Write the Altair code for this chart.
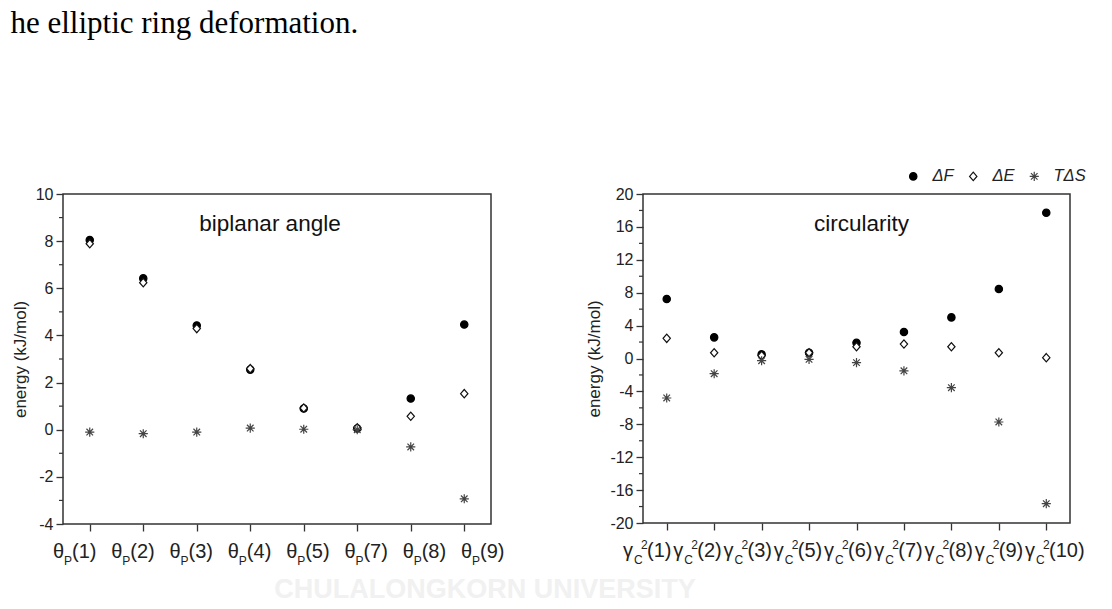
import altair as alt
import pandas as pd

series_names = ["ΔF", "ΔE", "TΔS"]

# biplanar angle panel
left_ids = ["1", "2", "3", "4", "5", "7", "8", "9"]
left_dF = [8.05, 6.42, 4.42, 2.55, 0.90, 0.05, 1.32, 4.46]
left_dE = [7.89, 6.24, 4.29, 2.59, 0.92, 0.08, 0.57, 1.53]
left_TdS = [-0.10, -0.17, -0.10, 0.07, 0.02, 0.00, -0.73, -2.93]
left_major = [-4, -2, 0, 2, 4, 6, 8, 10]
left_minor = [-3, -1, 1, 3, 5, 7, 9]

# circularity panel
right_ids = ["1", "2", "3", "5", "6", "7", "8", "9", "10"]
right_dF = [7.23, 2.57, 0.50, 0.70, 1.90, 3.22, 5.00, 8.45, 17.73]
right_dE = [2.45, 0.70, 0.35, 0.70, 1.43, 1.76, 1.43, 0.70, 0.10]
right_TdS = [-4.80, -1.85, -0.27, -0.10, -0.50, -1.50, -3.55, -7.72, -17.65]
right_major = [-20, -16, -12, -8, -4, 0, 4, 8, 12, 16, 20]
right_minor = [-18, -14, -10, -6, -2, 2, 6, 10, 14, 18]

page_text = "he elliptic ring deformation."
watermark = "CHULALONGKORN UNIVERSITY"
y_title = "energy (kJ/mol)"

FONT = "Liberation Sans"
INK = "#222222"

diamond_path = "M0,-1L0.88,0L0,1L-0.88,0Z"
asterisk_path = "M-1,0L1,0M0,-1L0,1M-0.72,-0.72L0.72,0.72M-0.72,0.72L0.72,-0.72"


def long_df(ids, dF, dE, TdS):
    rows = []
    for s, vals in zip(series_names, [dF, dE, TdS]):
        for i, (c, v) in enumerate(zip(ids, vals)):
            rows.append({"cat": c, "idx": i, "series": s, "value": v})
    return pd.DataFrame(rows)


def panel(ids, dF, dE, TdS, major, minor, title, W, H, sym, sub, sup,
          lab_range, title_dx, legend):
    df = long_df(ids, dF, dE, TdS)
    yscale = alt.Scale(domain=[major[0], major[-1]], nice=False, zero=False)
    xscale = alt.Scale(type="point", padding=0.5, domain=ids)

    if legend:
        leg = alt.Legend(orient="none", direction="horizontal", legendX=262, legendY=-26,
                         title=None, labelFont=FONT, labelFontStyle="italic",
                         labelFontSize=16.5, labelColor=INK, labelOffset=11,
                         columnPadding=11, padding=0, symbolStrokeWidth=1.2)
    else:
        leg = None

    yaxis = alt.Axis(values=major, title=y_title, titleFont=FONT,
                     titleFontSize=17, titleFontWeight="normal", titleColor=INK,
                     labelFont=FONT, labelFontSize=16, labelColor=INK,
                     labelExpr="datum.value < 0 ? '-' + abs(datum.value) : '' + datum.value",
                     tickSize=7, tickColor="#333333", tickWidth=1.3,
                     domain=False, grid=False, labelPadding=3, titlePadding=6)

    pts = alt.Chart(df).mark_point(filled=True, opacity=1, strokeWidth=1.2).encode(
        x=alt.X("cat:N", scale=xscale, sort=ids,
                axis=alt.Axis(labels=False, title=None, tickSize=7, domain=False,
                              grid=False, tickColor="#333333", tickWidth=1.3)),
        y=alt.Y("value:Q", scale=yscale, axis=yaxis),
        shape=alt.Shape("series:N", sort=series_names,
                        scale=alt.Scale(domain=series_names,
                                        range=["circle", diamond_path, asterisk_path]),
                        legend=leg),
        fill=alt.Fill("series:N", sort=series_names,
                      scale=alt.Scale(domain=series_names,
                                      range=["#000000", "#ffffff", "transparent"]),
                      legend=leg),
        stroke=alt.Stroke("series:N", sort=series_names,
                          scale=alt.Scale(domain=series_names,
                                          range=["#000000", "#111111", "#444444"]),
                          legend=leg),
        size=alt.Size("series:N", sort=series_names,
                      scale=alt.Scale(domain=series_names, range=[54, 84, 125]),
                      legend=leg),
    )

    minor_df = pd.DataFrame({"v": minor})
    minor_ticks = alt.Chart(minor_df).mark_rule(color="#333333", strokeWidth=1.2).encode(
        y=alt.Y("v:Q", scale=yscale, axis=yaxis),
        x=alt.value(-4), x2=alt.value(0),
    )

    lab_df = pd.DataFrame({"idx": list(range(len(ids))),
                           "num": ["(" + c + ")" for c in ids],
                           "sym": [sym] * len(ids),
                           "sub": [sub] * len(ids),
                           "sup": [sup] * len(ids)})
    lx = alt.X("idx:Q", scale=alt.Scale(domain=[0, len(ids) - 1], range=lab_range), axis=None)
    base_lab = alt.Chart(lab_df)
    lab_layers = [
        base_lab.mark_text(align="left", baseline="alphabetic", font=FONT,
                           fontSize=20, color=INK).encode(
            x=lx, y=alt.value(H + 34), text="sym:N"),
        base_lab.mark_text(align="left", baseline="alphabetic", font=FONT,
                           fontSize=12, color=INK, dx=11).encode(
            x=lx, y=alt.value(H + 41), text="sub:N"),
    ]
    num_dx = 19
    if sup:
        lab_layers.append(
            base_lab.mark_text(align="left", baseline="alphabetic", font=FONT,
                               fontSize=12, color=INK, dx=18).encode(
                x=lx, y=alt.value(H + 26), text="sup:N"))
        num_dx = 24
    lab_layers.append(
        base_lab.mark_text(align="left", baseline="alphabetic", font=FONT,
                           fontSize=20, color=INK, dx=num_dx).encode(
            x=lx, y=alt.value(H + 34), text="num:N"))

    ttl = alt.Chart(pd.DataFrame({"t": [title]})).mark_text(
        font=FONT, fontSize=22.5, color="#111111", baseline="middle", align="center"
    ).encode(text="t:N", x=alt.value(W / 2 + title_dx), y=alt.value(30))

    return alt.layer(pts, minor_ticks, ttl, *lab_layers).resolve_scale(
        x="independent").properties(width=W, height=H)


left = panel(left_ids, left_dF, left_dE, left_TdS, left_major, left_minor,
             "biplanar angle", 428, 330, "θ", "P", "", [-10, 398], -7, False)

wm = alt.Chart(pd.DataFrame({"t": [watermark]})).mark_text(
    font=FONT, fontSize=27, fontWeight="bold", color="#f1f1f1", align="center",
    baseline="middle").encode(text="t:N", x=alt.value(422), y=alt.value(396))
left = alt.layer(left, wm)

right = panel(right_ids, right_dF, right_dE, right_TdS, right_major, right_minor,
              "circularity", 427, 329, "γ", "C", "2", [-20, 382], 5, True)

chart = alt.hconcat(left, right, spacing=152, bounds="flush").resolve_scale(
    shape="independent", fill="independent", stroke="independent", size="independent"
).resolve_legend(
    shape="independent", fill="independent", stroke="independent", size="independent"
).properties(
    title=alt.TitleParams(page_text, anchor="start", font="Liberation Serif",
                          fontSize=31, fontWeight="normal", color="#000000", offset=127),
    padding={"left": 2, "top": 0, "right": 5, "bottom": 5},
    background="white",
).configure_view(stroke="#333333", strokeWidth=1.5)

chart.save("out.html", embed_options={"renderer": "svg", "actions": False})
